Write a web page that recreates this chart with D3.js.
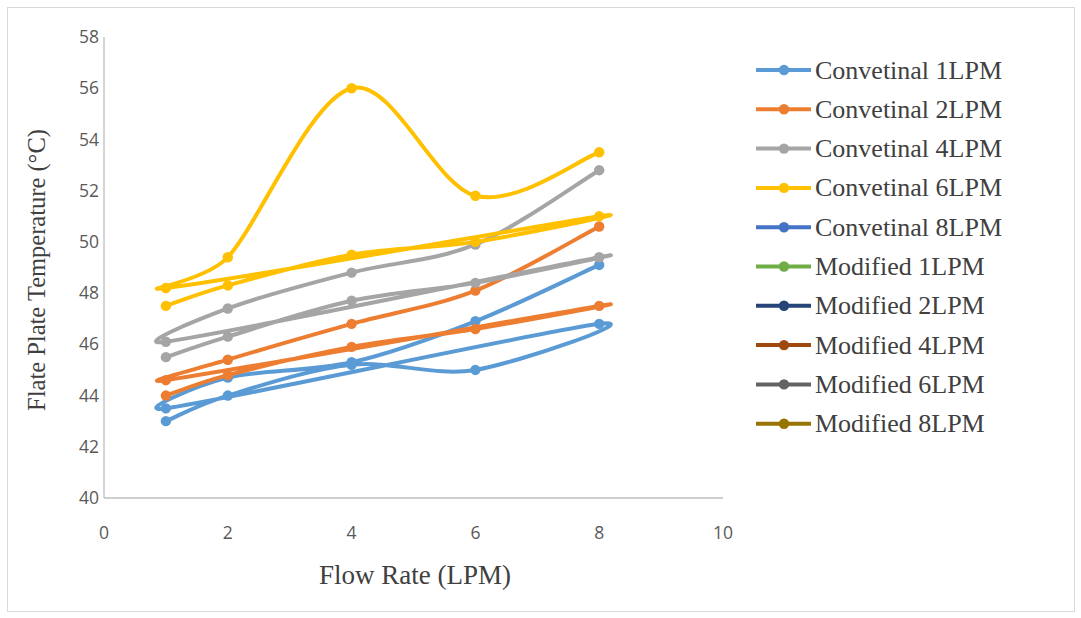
<!DOCTYPE html>
<html>
<head>
<meta charset="utf-8">
<script src="https://cdn.jsdelivr.net/npm/d3@7"></script>
<style>
  body { margin: 0; background: #fff; }
</style>
</head>
<body>
<div id="chart"></div>
<script>
// each series holds 10 points: x runs 1..8 twice (the sheet joined both halves into one line)
var flowRates = [1, 2, 4, 6, 8, 1, 2, 4, 6, 8];

var conv1LPM = [43.0, 44.0, 45.2, 45.0, 46.8, 43.5, 44.7, 45.3, 46.9, 49.1];
var conv2LPM = [44.0, 44.8, 45.9, 46.6, 47.5, 44.6, 45.4, 46.8, 48.1, 50.6];
var conv4LPM = [45.5, 46.3, 47.7, 48.4, 49.4, 46.1, 47.4, 48.8, 49.9, 52.8];
var conv6LPM = [47.5, 48.3, 49.5, 50.0, 51.0, 48.2, 49.4, 56.0, 51.8, 53.5];
var emptySeries = [];

var seriesNames = ["Convetinal 1LPM", "Convetinal 2LPM", "Convetinal 4LPM", "Convetinal 6LPM",
  "Convetinal 8LPM", "Modified 1LPM", "Modified 2LPM", "Modified 4LPM", "Modified 6LPM", "Modified 8LPM"];
var seriesValues = [conv1LPM, conv2LPM, conv4LPM, conv6LPM, emptySeries,
  emptySeries, emptySeries, emptySeries, emptySeries, emptySeries];
var seriesColors = ["#5B9BD5", "#ED7D31", "#A5A5A5", "#FFC000", "#4472C4",
  "#70AD47", "#264478", "#9E480E", "#636363", "#997300"];

var xTicks = [0, 2, 4, 6, 8, 10];
var yTicks = [40, 42, 44, 46, 48, 50, 52, 54, 56, 58];

var width = 1081, height = 618;

var svg = d3.select("#chart")
  .append("svg")
    .attr("width", width)
    .attr("height", height);

svg.append("rect")
    .attr("x", 7.5)
    .attr("y", 7.5)
    .attr("width", 1067)
    .attr("height", 604)
    .attr("fill", "#fff")
    .attr("stroke", "#d9d9d9");

var x = d3.scaleLinear().domain([0, 10]).range([104, 723]);
var y = d3.scaleLinear().domain([40, 58]).range([498, 37]);

// axes: no tick marks, just the lines and labels
svg.append("line")
    .attr("x1", x(0)).attr("x2", x(0))
    .attr("y1", y(58)).attr("y2", y(40))
    .attr("stroke", "#bfbfbf")
    .attr("stroke-width", 1.3);

svg.append("line")
    .attr("x1", x(0)).attr("x2", x(10))
    .attr("y1", y(40)).attr("y2", y(40))
    .attr("stroke", "#bfbfbf")
    .attr("stroke-width", 1.3);

svg.selectAll(".ytick")
  .data(yTicks)
  .enter().append("text")
    .attr("class", "ytick")
    .attr("x", 99)
    .attr("y", function(d) { return y(d); })
    .attr("dy", "0.35em")
    .attr("text-anchor", "end")
    .attr("font-family", "Open Sans, sans-serif")
    .attr("font-size", 17.5)
    .attr("fill", "#595959")
    .text(function(d) { return d; });

svg.selectAll(".xtick")
  .data(xTicks)
  .enter().append("text")
    .attr("class", "xtick")
    .attr("x", function(d) { return x(d); })
    .attr("y", 533)
    .attr("dy", "0.35em")
    .attr("text-anchor", "middle")
    .attr("font-family", "Open Sans, sans-serif")
    .attr("font-size", 17.5)
    .attr("fill", "#595959")
    .text(function(d) { return d; });

svg.append("text")
    .attr("x", 415)
    .attr("y", 584)
    .attr("text-anchor", "middle")
    .attr("font-family", "Liberation Serif, serif")
    .attr("font-size", 27)
    .attr("fill", "#404040")
    .text("Flow Rate (LPM)");

svg.append("text")
    .attr("transform", "translate(45,270) rotate(-90)")
    .attr("text-anchor", "middle")
    .attr("font-family", "Liberation Serif, serif")
    .attr("font-size", 24.5)
    .attr("fill", "#404040")
    .text("Flate Plate Temperature (°C)");

// Excel-like smoothing: bezier arms of (next - prev) / 6,
// each arm kept to half of the segment it sits on
var smoothPath = function(pts) {
  var p = d3.path();
  var arm = function(a, b, segLen) {
    var dx = (b[0] - a[0]) / 6, dy = (b[1] - a[1]) / 6;
    var len = Math.hypot(dx, dy);
    var k = (len > 0.5 * segLen) ? (0.5 * segLen / len) : 1;
    return [dx * k, dy * k];
  };
  p.moveTo(pts[0][0], pts[0][1]);
  for (var i = 0; i < pts.length - 1; i++) {
    var p0 = pts[i - 1] || pts[i], p1 = pts[i], p2 = pts[i + 1], p3 = pts[i + 2] || pts[i + 1];
    var seg = Math.hypot(p2[0] - p1[0], p2[1] - p1[1]);
    var t1 = arm(p0, p2, seg), t2 = arm(p1, p3, seg);
    p.bezierCurveTo(p1[0] + t1[0], p1[1] + t1[1], p2[0] - t2[0], p2[1] - t2[1], p2[0], p2[1]);
  }
  return p.toString();
};

var series = seriesNames.map(function(name, i) {
  return {
    name: name,
    color: seriesColors[i],
    points: seriesValues[i].map(function(v, j) { return { x: flowRates[j], y: v }; })
  };
});

var plotted = svg.selectAll(".series")
  .data(series.filter(function(s) { return s.points.length > 0; }))
  .enter().append("g")
    .attr("class", "series");

plotted.append("path")
    .attr("d", function(s) {
      return smoothPath(s.points.map(function(d) { return [x(d.x), y(d.y)]; }));
    })
    .attr("fill", "none")
    .attr("stroke", function(s) { return s.color; })
    .attr("stroke-width", 4)
    .attr("stroke-linejoin", "round");

plotted.selectAll(".dot")
  .data(function(s) { return s.points.map(function(p) { return { x: p.x, y: p.y, color: s.color }; }); })
  .enter().append("circle")
    .attr("class", "dot")
    .attr("cx", function(d) { return x(d.x); })
    .attr("cy", function(d) { return y(d.y); })
    .attr("r", 5.2)
    .attr("fill", function(d) { return d.color; });

// legend
var legend = svg.selectAll(".legend")
  .data(series)
  .enter().append("g")
    .attr("class", "legend")
    .attr("transform", function(d, i) { return "translate(756," + (70 + i * 39.3) + ")"; });

legend.append("line")
    .attr("x1", 0).attr("x2", 55)
    .attr("y1", 0).attr("y2", 0)
    .attr("stroke", function(d) { return d.color; })
    .attr("stroke-width", 4);

legend.append("circle")
    .attr("cx", 28)
    .attr("cy", 0)
    .attr("r", 5.2)
    .attr("fill", function(d) { return d.color; });

legend.append("text")
    .attr("x", 59)
    .attr("y", 0)
    .attr("dy", "0.33em")
    .attr("font-family", "Liberation Serif, serif")
    .attr("font-size", 26)
    .attr("fill", "#404040")
    .text(function(d) { return d.name; });
</script>
</body>
</html>
